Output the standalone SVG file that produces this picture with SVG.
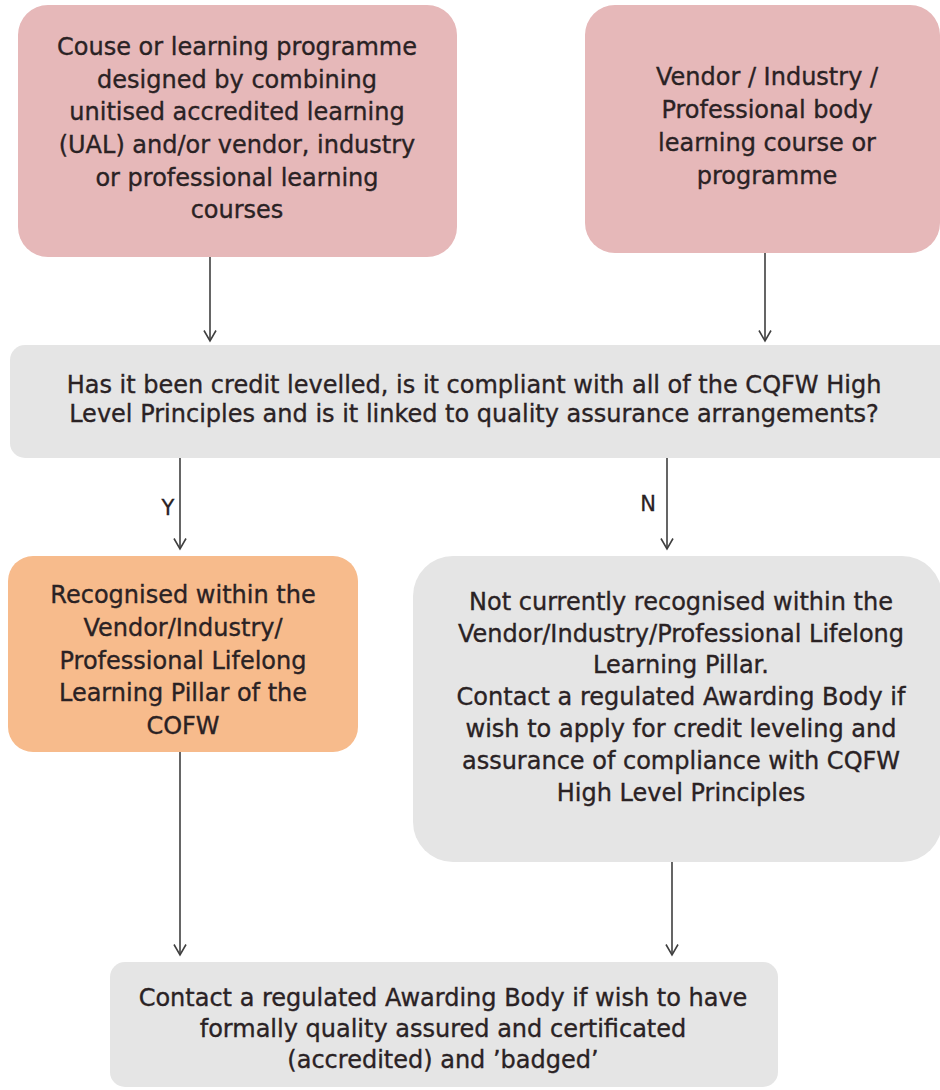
<svg xmlns="http://www.w3.org/2000/svg" width="940" height="1090" viewBox="0 0 940 1090">
<defs>
<style>
.t{font-family:"DejaVu Sans","Verdana",sans-serif;font-size:24px;fill:#2a2224;stroke:#2a2224;stroke-width:0.35;text-anchor:middle}
.pink{fill:#e6b8b9}
.orange{fill:#f7bb8c}
.grey{fill:#e5e5e5}
.c{stroke:#3f3f3f;stroke-width:1.6;fill:none}
.lbl{font-family:"DejaVu Sans","Verdana",sans-serif;font-size:21px;fill:#2a2224;stroke:#2a2224;stroke-width:0.3;text-anchor:middle}
</style>
<marker id="ah" viewBox="0 0 13 14" refX="11.5" refY="7" markerWidth="13" markerHeight="14" markerUnits="userSpaceOnUse" orient="auto">
<path d="M1,1 L11.5,7 L1,13" fill="none" stroke="#3f3f3f" stroke-width="1.6"/>
</marker>
</defs>
<rect width="940" height="1090" fill="#ffffff"/>
<g id="n1">
<rect class="pink" x="18" y="5" width="439" height="252" rx="30"/>
<text class="t" x="237" y="55">Couse or learning programme</text>
<text class="t" x="237" y="88">designed by combining</text>
<text class="t" x="237" y="120">unitised accredited learning</text>
<text class="t" x="237" y="153">(UAL) and/or vendor, industry</text>
<text class="t" x="237" y="186">or professional learning</text>
<text class="t" x="237" y="218">courses</text>
</g>
<g id="n2">
<rect class="pink" x="585" y="5" width="355" height="248" rx="30"/>
<text class="t" x="767" y="85">Vendor / Industry /</text>
<text class="t" x="767" y="118">Professional body</text>
<text class="t" x="767" y="151">learning course or</text>
<text class="t" x="767" y="184">programme</text>
</g>
<g id="n3">
<rect class="grey" x="10" y="345" width="950" height="113" rx="15"/>
<text class="t" x="474" y="393">Has it been credit levelled, is it compliant with all of the CQFW High</text>
<text class="t" x="474" y="422">Level Principles and is it linked to quality assurance arrangements?</text>
</g>
<g id="n4">
<rect class="orange" x="8" y="556" width="350" height="196" rx="25"/>
<text class="t" x="183" y="603">Recognised within the</text>
<text class="t" x="183" y="636">Vendor/Industry/</text>
<text class="t" x="183" y="669">Professional Lifelong</text>
<text class="t" x="183" y="701">Learning Pillar of the</text>
<text class="t" x="183" y="734">COFW</text>
</g>
<g id="n5">
<rect class="grey" x="413" y="556" width="529" height="306" rx="40"/>
<text class="t" x="681" y="610">Not currently recognised within the</text>
<text class="t" x="681" y="642">Vendor/Industry/Professional Lifelong</text>
<text class="t" x="681" y="673">Learning Pillar.</text>
<text class="t" x="681" y="705">Contact a regulated Awarding Body if</text>
<text class="t" x="681" y="737">wish to apply for credit leveling and</text>
<text class="t" x="681" y="769">assurance of compliance with CQFW</text>
<text class="t" x="681" y="801">High Level Principles</text>
</g>
<g id="n6">
<rect class="grey" x="110" y="962" width="668" height="125" rx="15"/>
<text class="t" x="443" y="1006">Contact a regulated Awarding Body if wish to have</text>
<text class="t" x="443" y="1037">formally quality assured and certificated</text>
<text class="t" x="443" y="1068">(accredited) and ’badged’</text>
</g>
<g id="connectors">
<line class="c" x1="210" y1="257" x2="210" y2="341" marker-end="url(#ah)"/>
<line class="c" x1="765" y1="253" x2="765" y2="341" marker-end="url(#ah)"/>
<line class="c" x1="180" y1="458" x2="180" y2="549" marker-end="url(#ah)"/>
<line class="c" x1="667" y1="458" x2="667" y2="549" marker-end="url(#ah)"/>
<line class="c" x1="180" y1="752" x2="180" y2="955" marker-end="url(#ah)"/>
<line class="c" x1="672" y1="862" x2="672" y2="955" marker-end="url(#ah)"/>
<text class="lbl" x="168" y="515">Y</text>
<text class="lbl" x="648" y="511">N</text>
</g>
</svg>
